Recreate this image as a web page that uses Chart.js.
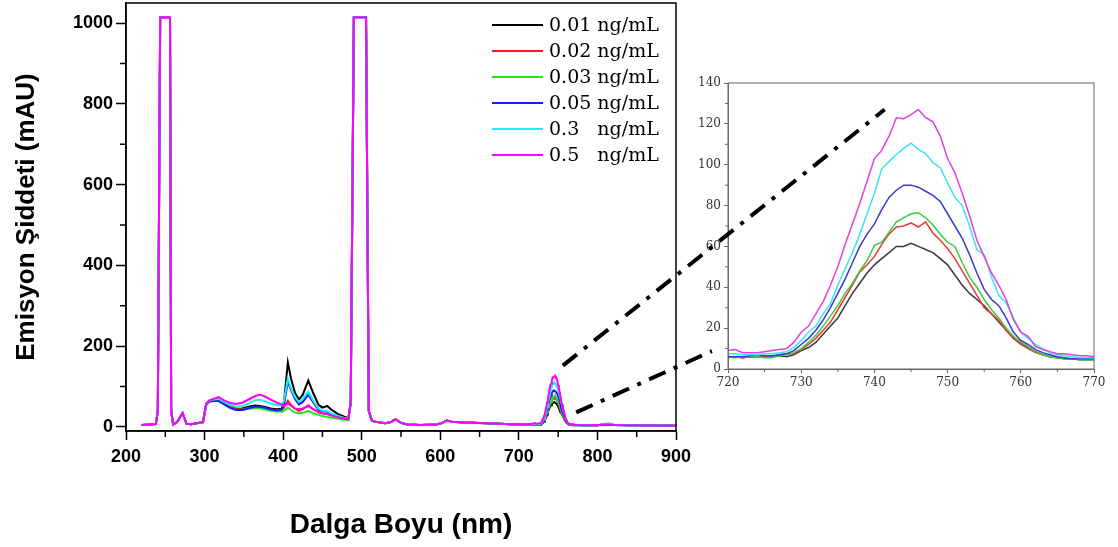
<!DOCTYPE html>
<html>
<head>
<meta charset="utf-8">
<script src="https://cdn.jsdelivr.net/npm/chart.js@4.4.0/dist/chart.umd.min.js"></script>
<style>
  html, body { margin: 0; padding: 0; background: #fff; }
  #wrap { position: relative; width: 1118px; height: 547px; overflow: hidden; }
  #mainChart { position: absolute; left: 0; top: 0; }
  #insetChart { position: absolute; left: 540px; top: 60px; }
</style>
</head>
<body>
<div id="wrap">
  <canvas id="mainChart" width="1118" height="547"></canvas>
  <canvas id="insetChart" width="578" height="400"></canvas>
</div>
<script>
// Series ----------
var seriesLabels = ["0.01 ng/mL", "0.02 ng/mL", "0.03 ng/mL", "0.05 ng/mL", "0.3   ng/mL", "0.5   ng/mL"];
var mainColors = ["#000000", "#ff1a1a", "#1ee61e", "#1a1aff", "#1ef0f0", "#ff00ff"];
var insetColors = ["#3a3a3a", "#e83a3a", "#3acc3a", "#3a3ad0", "#3ae6e6", "#e040e0"];

// Full spectrum (the 720-770 nm part comes from the inset arrays)
var mainWavelengths = [
  220, 230, 238, 240.5, 243.5, 256, 257.5, 260, 265, 272,
  277, 283, 290, 298, 302, 306, 312, 318, 325, 332,
  340, 348, 356, 364, 370, 376, 384, 392, 398, 401,
  406, 410, 415, 420, 425, 432, 438, 445, 450, 456,
  462, 470, 477, 483, 486, 490, 505.5, 509, 513, 520,
  530, 537, 543, 550, 558, 575, 595, 603, 608, 615,
  630, 660, 690, 712, 775, 785, 800, 808, 815, 822,
  840, 870, 900
];
var main001 = [
  5, 6, 7, 40, 1015, 1015, 40, 6, 12, 34,
  8, 7, 9, 12, 55, 64, 66, 68, 60, 52,
  45, 46, 50, 53, 52, 50, 46, 44, 45, 60,
  160, 120, 85, 68, 80, 115, 85, 55, 48, 52,
  42, 32, 26, 22, 60, 1015, 1015, 40, 15, 12,
  9, 12, 19, 10, 6, 5, 6, 10, 16, 13,
  11, 9, 7, 6, 5, 4.5, 4, 6, 6, 5,
  4, 3.5, 3
];
var main002 = [
  5, 6, 7, 40, 1015, 1015, 40, 6, 12, 34,
  8, 7, 9, 12, 55, 63, 65, 66, 58, 50,
  44, 44, 47, 49, 48, 46, 43, 42, 42, 48,
  65, 55, 45, 40, 44, 54, 44, 36, 33, 32,
  28, 24, 21, 20, 60, 1015, 1015, 40, 15, 12,
  9, 12, 19, 10, 6, 5, 6, 10, 16, 13,
  11, 9, 7, 6, 5, 4.5, 4, 6, 6, 5,
  4, 3.5, 3
];
var main003 = [
  5, 6, 7, 40, 1015, 1015, 40, 6, 12, 34,
  8, 7, 9, 12, 55, 62, 64, 65, 56, 48,
  42, 42, 45, 47, 46, 44, 40, 38, 37, 40,
  48, 42, 36, 34, 35, 40, 34, 30, 27, 25,
  23, 20, 18, 17, 60, 1015, 1015, 40, 15, 12,
  9, 12, 19, 10, 6, 5, 6, 10, 16, 13,
  11, 9, 7, 6, 5, 4.5, 4, 6, 6, 5,
  4, 3.5, 3
];
var main005 = [
  5, 6, 7, 40, 1015, 1015, 40, 6, 12, 34,
  8, 7, 9, 12, 55, 63, 65, 64, 56, 48,
  42, 42, 46, 50, 50, 48, 44, 41, 43, 55,
  112, 92, 70, 56, 62, 80, 62, 42, 38, 38,
  32, 26, 22, 20, 60, 1015, 1015, 40, 15, 12,
  9, 12, 19, 10, 6, 5, 6, 10, 16, 13,
  11, 9, 7, 6, 5, 4.5, 4, 6, 6, 5,
  4, 3.5, 3
];
var main03 = [
  5, 6, 7, 40, 1015, 1015, 40, 6, 12, 34,
  8, 7, 9, 12, 56, 65, 68, 70, 62, 55,
  50, 52, 58, 66, 68, 64, 58, 54, 54, 65,
  120, 96, 75, 62, 70, 88, 66, 46, 40, 40,
  33, 27, 23, 20, 60, 1015, 1015, 40, 15, 12,
  9, 12, 19, 10, 6, 5, 6, 10, 16, 13,
  11, 9, 7, 6, 5, 4.5, 4, 8, 9, 5,
  4, 3.5, 3
];
var main05 = [
  5, 6, 7, 40, 1015, 1015, 40, 6, 12, 35,
  8, 7, 9, 12, 58, 66, 70, 74, 66, 60,
  57, 60, 68, 76, 80, 76, 68, 60, 56, 52,
  58, 52, 46, 44, 46, 52, 44, 38, 34, 32,
  28, 24, 21, 19, 60, 1015, 1015, 40, 15, 12,
  9, 12, 19, 10, 6, 5, 6, 10, 16, 13,
  11, 9, 7, 6, 5, 4.5, 4, 6, 6, 5,
  4, 3.5, 3
];

// Zoomed peak (inset), 1 nm steps
var insetWavelengths = [
  720, 721, 722, 723, 724, 725, 726, 727, 728, 729,
  730, 731, 732, 733, 734, 735, 736, 737, 738, 739,
  740, 741, 742, 743, 744, 745, 746, 747, 748, 749,
  750, 751, 752, 753, 754, 755, 756, 757, 758, 759,
  760, 761, 762, 763, 764, 765, 766, 767, 768, 769,
  770
];
var inset001 = [
  6, 6, 5.5, 6, 6, 6, 6, 6.5, 6, 7,
  9, 10.5, 13, 17, 21, 25, 31, 37, 42, 47,
  51, 54, 57, 60, 60, 61.5, 60, 58.5, 57, 54,
  51, 46, 41, 37, 34, 31, 27, 23, 19, 15,
  12.5, 10.5, 8.5, 7, 6, 5.5, 5, 5, 4.5, 4.5,
  4.5
];
var inset002 = [
  6, 6, 5.5, 6, 6, 6, 6, 7, 7.5, 7.5,
  9.5, 12, 15, 19, 23, 29, 35, 41, 47.5, 51,
  55, 61, 66, 69.5, 70, 71.5, 69.5, 72, 66.5, 63,
  59, 54, 48, 42, 36, 30, 27, 24, 19, 15,
  12, 10, 8, 7, 6, 5.5, 5, 5, 5, 5,
  5
];
var inset003 = [
  6, 5.5, 6, 6, 6, 5.5, 5.5, 6.5, 7, 8,
  10, 13, 16.5, 21, 26, 31, 37, 42, 48, 53,
  60.5, 62, 67, 72, 74, 76, 76.5, 74, 70.5, 66,
  62, 60, 52, 45, 40, 34, 29, 25, 20, 16,
  13, 11, 8.5, 7, 6, 5.5, 5, 5, 4.5, 4.5,
  4.5
];
var inset005 = [
  6, 6, 6, 6.5, 7, 6.5, 6.5, 7, 7.5, 9,
  12, 15, 19, 24, 30, 37, 44, 52, 60, 66,
  71, 78, 84, 87.5, 90, 90, 89, 87, 85, 82,
  76, 70, 64, 56, 47, 39, 34, 31, 25, 18,
  14, 12, 9.5, 8, 7, 6, 5.5, 5, 5, 5,
  5
];
var inset03 = [
  7.5, 7.5, 7, 7, 7, 7.5, 7.5, 8, 8.5, 10.5,
  14, 18, 21, 27, 32, 41, 49, 57, 66, 76,
  86, 98, 101.5, 105, 108, 110.5, 107.5, 105.5, 101, 98.5,
  91, 84, 80, 70, 58.5, 56, 45, 36, 32.5, 25,
  18, 15, 12, 10, 8, 7, 6.5, 6, 5.5, 5.5,
  5.5
];
var inset05 = [
  9, 9.5, 8, 8, 8, 8.5, 9, 9.5, 10, 13,
  18, 21, 27, 33, 41, 50, 61, 71, 81, 92,
  103, 107, 114, 123, 122.5, 124.5, 127, 123, 121, 114,
  103, 96, 86, 75, 63, 55, 47, 41, 34, 24,
  18, 16, 11, 9.5, 8.5, 7.5, 7.5, 7, 6.5, 6.5,
  6
];

var mainSeries = [main001, main002, main003, main005, main03, main05];
var insetSeries = [inset001, inset002, inset003, inset005, inset03, inset05];

// Ticks ----------
var mainXTicks = [200, 300, 400, 500, 600, 700, 800, 900];
var mainXMinor = [250, 350, 450, 550, 650, 750, 850];
var mainYTicks = [0, 200, 400, 600, 800, 1000];
var mainYMinor = [100, 300, 500, 700, 900];
var insetXTicks = [720, 730, 740, 750, 760, 770];
var insetXMinor = [725, 735, 745, 755, 765];
var insetYTicks = [0, 20, 40, 60, 80, 100, 120, 140];
var insetYMinor = [10, 30, 50, 70, 90, 110, 130];

// Dash-dot lines from the peak in the main plot to the inset: [wavelength, intensity]
var zoomFrom = [[756, 152], [773, 36]];
var zoomTo = [[741.4, 127], [717.8, 8.8]];


// Helpers ----------
function mergePoints(mainVals, insetVals) {
    var pts = [];
    mainWavelengths.forEach(function (wl, k) { pts.push({ x: wl, y: mainVals[k] }); });
    insetWavelengths.forEach(function (wl, k) { pts.push({ x: wl, y: insetVals[k] }); });
    return pts.sort(function (a, b) { return a.x - b.x; });
}

function tickList(values) {
    return function (scale) {
        scale.ticks = values.map(function (v) { return { value: v }; });
    };
}

function plainNumber(value) {
    return String(value);
}

// box round the plot + minor ticks
var decorPlugin = {
    id: 'decor',
    afterDraw: function (chart, args, opts) {
        var ctx = chart.ctx, area = chart.chartArea;
        var xs = chart.scales.x, ys = chart.scales.y;
        ctx.save();
        ctx.strokeStyle = opts.color;
        ctx.lineWidth = opts.lineWidth;
        ctx.strokeRect(area.left, area.top, area.right - area.left, area.bottom - area.top);
        ctx.beginPath();
        opts.minorX.forEach(function (v) {
            var px = xs.getPixelForValue(v);
            ctx.moveTo(px, area.bottom);
            ctx.lineTo(px, area.bottom + opts.minorLength);
        });
        opts.minorY.forEach(function (v) {
            var py = ys.getPixelForValue(v);
            ctx.moveTo(area.left, py);
            ctx.lineTo(area.left - opts.minorLength, py);
        });
        ctx.stroke();
        ctx.restore();
    }
};

// legend in the top right corner of the main plot
var legendPlugin = {
    id: 'seriesLegend',
    afterDatasetsDraw: function (chart, args, opts) {
        var ctx = chart.ctx, area = chart.chartArea;
        var textX = area.right - opts.rightInset;
        ctx.save();
        ctx.font = opts.font;
        ctx.textBaseline = 'middle';
        ctx.textAlign = 'left';
        ctx.fillStyle = '#000';
        chart.data.datasets.forEach(function (ds, i) {
            var y = area.top + opts.top + i * opts.rowHeight;
            ctx.strokeStyle = ds.borderColor;
            ctx.lineWidth = 2;
            ctx.beginPath();
            ctx.moveTo(textX - opts.gap - opts.lineLength, y);
            ctx.lineTo(textX - opts.gap, y);
            ctx.stroke();
            ctx.fillText(ds.label, textX, y + 1);
        });
        ctx.restore();
    }
};

// dash-dot connectors, drawn on the inset canvas
var connectorPlugin = {
    id: 'connectors',
    afterDraw: function (chart) {
        var ctx = chart.ctx;
        var mainCanvas = document.getElementById('mainChart');
        var insetCanvas = document.getElementById('insetChart');
        var dx = insetCanvas.offsetLeft - mainCanvas.offsetLeft;
        var dy = insetCanvas.offsetTop - mainCanvas.offsetTop;
        ctx.save();
        ctx.strokeStyle = '#000';
        ctx.lineWidth = 4;
        ctx.setLineDash([18, 9, 4, 9]);
        zoomFrom.forEach(function (p, i) {
            var x0 = mainChart.scales.x.getPixelForValue(p[0]) - dx;
            var y0 = mainChart.scales.y.getPixelForValue(p[1]) - dy;
            var x1 = chart.scales.x.getPixelForValue(zoomTo[i][0]);
            var y1 = chart.scales.y.getPixelForValue(zoomTo[i][1]);
            ctx.beginPath();
            ctx.moveTo(x0, y0);
            ctx.lineTo(x1, y1);
            ctx.stroke();
        });
        ctx.restore();
    }
};


// Main chart ----------
var boldFont = "'Liberation Sans', Arial, sans-serif";

var mainChart = new Chart(document.getElementById('mainChart'), {
    type: 'line',
    data: {
        datasets: seriesLabels.map(function (label, i) {
            return {
                label: label,
                data: mergePoints(mainSeries[i], insetSeries[i]),
                borderColor: mainColors[i],
                borderWidth: 2,
                pointRadius: 0,
                fill: false,
                tension: 0,
                order: seriesLabels.length - i
            };
        })
    },
    options: {
        responsive: false,
        animation: false,
        events: [],
        layout: { padding: { left: 0, top: 3, right: 442, bottom: 0 } },
        plugins: {
            legend: { display: false },
            tooltip: { enabled: false },
            decor: { color: '#000', lineWidth: 1.5, minorLength: 6, minorX: mainXMinor, minorY: mainYMinor },
            seriesLegend: { font: "19px 'DejaVu Serif', serif", rightInset: 127, top: 22, rowHeight: 26, lineLength: 51, gap: 6 }
        },
        scales: {
            x: {
                type: 'linear',
                min: 200,
                max: 900,
                afterBuildTicks: tickList(mainXTicks),
                ticks: { color: '#000', padding: 6, maxRotation: 0, autoSkip: false, callback: plainNumber,
                         font: { family: boldFont, size: 18, weight: 'bold' } },
                grid: { drawOnChartArea: false, tickLength: 9, tickColor: '#000', tickWidth: 1.5 },
                border: { color: '#000', width: 1.5 },
                title: { display: true, text: 'Dalga Boyu (nm)', color: '#000',
                         font: { family: boldFont, size: 28, weight: 'bold' }, padding: { top: 0, bottom: 5 } },
                afterFit: function (scale) { scale.height = 116; scale.paddingLeft = 0; scale.paddingRight = 0; }
            },
            y: {
                type: 'linear',
                min: -10,
                max: 1050,
                afterBuildTicks: tickList(mainYTicks),
                ticks: { color: '#000', padding: 3, callback: plainNumber,
                         font: { family: boldFont, size: 18, weight: 'bold' } },
                grid: { drawOnChartArea: false, tickLength: 10, tickColor: '#000', tickWidth: 1.5 },
                border: { color: '#000', width: 1.5 },
                title: { display: true, text: 'Emisyon Şiddeti (mAU)', color: '#000',
                         font: { family: boldFont, size: 26, weight: 'bold' }, padding: { top: 11, bottom: 0 } },
                afterFit: function (scale) { scale.width = 126; scale.paddingTop = 0; scale.paddingBottom = 0; }
            }
        }
    },
    plugins: [decorPlugin, legendPlugin]
});


// Inset chart ----------
var serifFont = "'DejaVu Serif', serif";

var insetChart = new Chart(document.getElementById('insetChart'), {
    type: 'line',
    data: {
        datasets: seriesLabels.map(function (label, i) {
            return {
                label: label,
                data: insetWavelengths.map(function (wl, k) { return { x: wl, y: insetSeries[i][k] }; }),
                borderColor: insetColors[i],
                borderWidth: 1.5,
                pointRadius: 0,
                fill: false,
                tension: 0,
                order: seriesLabels.length - i
            };
        })
    },
    options: {
        responsive: false,
        animation: false,
        events: [],
        layout: { padding: { left: 150, top: 23, right: 24, bottom: 0 } },
        plugins: {
            legend: { display: false },
            tooltip: { enabled: false },
            decor: { color: '#666', lineWidth: 1, minorLength: 3, minorX: insetXMinor, minorY: insetYMinor }
        },
        scales: {
            x: {
                type: 'linear',
                min: 720,
                max: 770,
                afterBuildTicks: tickList(insetXTicks),
                ticks: { color: '#333', padding: 3, maxRotation: 0, autoSkip: false, callback: plainNumber,
                         font: { family: serifFont, size: 12 } },
                grid: { drawOnChartArea: false, tickLength: 4, tickColor: '#666' },
                border: { color: '#666', width: 1 },
                afterFit: function (scale) { scale.height = 91; scale.paddingLeft = 0; scale.paddingRight = 0; }
            },
            y: {
                type: 'linear',
                min: 0,
                max: 140,
                afterBuildTicks: tickList(insetYTicks),
                ticks: { color: '#333', padding: 3, callback: plainNumber,
                         font: { family: serifFont, size: 12 } },
                grid: { drawOnChartArea: false, tickLength: 4, tickColor: '#666' },
                border: { color: '#666', width: 1 },
                afterFit: function (scale) { scale.width = 38; scale.paddingTop = 0; scale.paddingBottom = 0; }
            }
        }
    },
    plugins: [decorPlugin, connectorPlugin]
});
</script>
</body>
</html>
